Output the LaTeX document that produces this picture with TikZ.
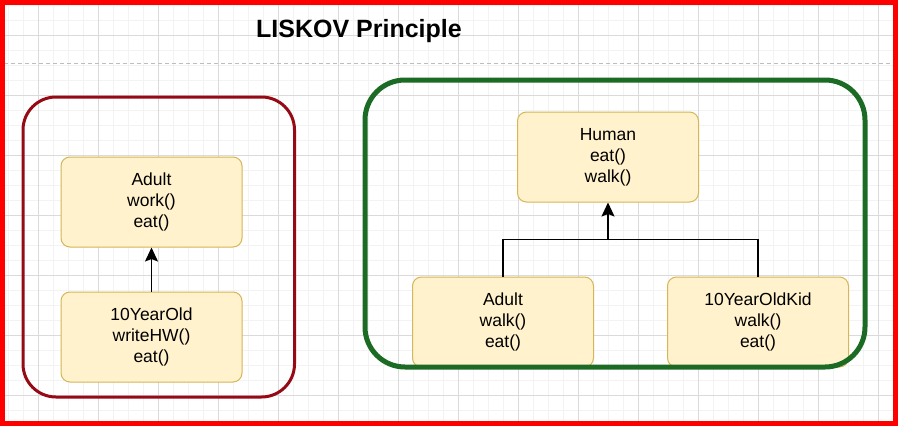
\documentclass[tikz,border=0pt]{standalone}
\usepackage{fontspec}
\setmainfont{Liberation Sans}
\usetikzlibrary{arrows.meta}
\definecolor{gridmaj}{HTML}{DADADA}
\definecolor{gridmin}{HTML}{F3F3F3}
\definecolor{boxfill}{HTML}{FFF2CC}
\definecolor{boxline}{HTML}{D6B656}
\definecolor{leftframe}{HTML}{960A16}
\definecolor{rightframe}{HTML}{1B6B25}
\definecolor{borderred}{HTML}{FF0000}
\definecolor{dashgray}{HTML}{BDBDBD}
\begin{document}
\begin{tikzpicture}[x=1pt,y=-1pt,
  cls/.style={draw=boxline, fill=boxfill, rounded corners=9pt, line width=1pt,
    minimum width=181pt, minimum height=90pt, align=center,
    font=\fontsize{17.5}{21}\selectfont, inner sep=0pt},
  link/.style={line width=1.5pt, draw=black},
  arrowlink/.style={-{Stealth[length=14pt,width=13pt,inset=2.5pt]}},
  minorline/.style={draw=gridmin, line width=0.8pt},
  majorline/.style={draw=gridmaj, line width=1pt}
]
\useasboundingbox (0,0) rectangle (898,426);
\fill[white] (0,0) rectangle (898,426);
% grid
\foreach \gx in {8,23,...,898} {\draw[minorline] (\gx,0) -- (\gx,426);}
\foreach \gy in {5,20,...,426} {\draw[minorline] (0,\gy) -- (898,\gy);}
\foreach \gx in {38,98,...,898} {\draw[majorline] (\gx,0) -- (\gx,426);}
\foreach \gy in {35,95,...,426} {\draw[majorline] (0,\gy) -- (898,\gy);}
% dashed separator
\draw[dashgray, line width=1pt, dash pattern=on 4pt off 3pt] (4,63.5) -- (894,63.5);
% title
\node[anchor=base west, inner sep=0pt, font=\fontsize{25}{30}\selectfont\bfseries] (title) at (256,37) {LISKOV Principle};
% left frame
\draw[leftframe, line width=3pt, rounded corners=33pt] (23,97) rectangle (294.5,397);
% left classes
\node[cls] (adultL) at (151.5,202) {Adult\\work()\\eat()};
\node[cls] (tenL) at (151.5,337) {10YearOld\\writeHW()\\eat()};
\draw[link, arrowlink] (tenL.north) -- (adultL.south);
% right classes
\node[cls] (human) at (608,157) {Human\\eat()\\walk()};
\node[cls] (adultR) at (503,322) {Adult\\walk()\\eat()};
\node[cls] (kid) at (758,322) {10YearOldKid\\walk()\\eat()};
\coordinate (join) at (608,239.5);
\draw[link] (adultR.north) |- (join) -| (kid.north);
\draw[link, arrowlink] (join) -- (human.south);
% right frame
\draw[rightframe, line width=5pt, rounded corners=40pt] (365,80) rectangle (865,367);
% outer red border
\draw[borderred, line width=5pt] (2.5,2.5) rectangle (895.5,423.5);
\end{tikzpicture}
\end{document}
